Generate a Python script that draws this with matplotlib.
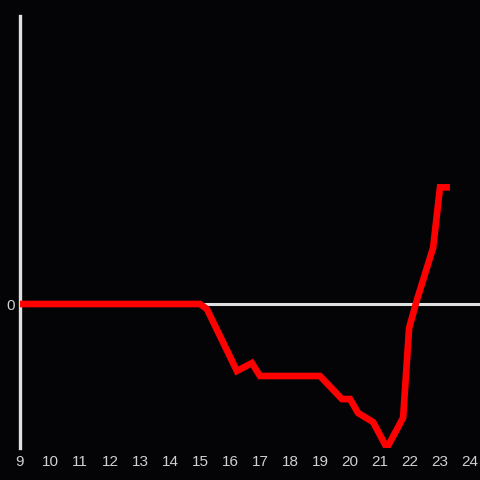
import numpy as np
import matplotlib
matplotlib.use('Agg')
import matplotlib.pyplot as plt

plt.rcParams['font.family'] = ['Liberation Sans', 'DejaVu Sans']

# series
x_vals = [9, 10, 11, 12, 13, 14, 15, 15.23, 16.23, 16.73, 17.0, 18, 19.0,
          19.73, 20.0, 20.27, 20.77, 21.23, 21.77, 21.97, 22.23, 22.77,
          23.0, 23.33]
y_vals = [0, 0, 0, 0, 0, 0, 0, -0.035, -0.465, -0.41, -0.5, -0.5, -0.5,
          -0.66, -0.66, -0.757, -0.82, -1.0, -0.79, -0.167, 0.028, 0.39,
          0.81, 0.81]
x_ticks = list(range(9, 25))

bg = '#040306'
fig = plt.figure(figsize=(4.8, 4.8), dpi=100, facecolor=bg)
ax = fig.add_axes([20 / 480, 32 / 480, 460 / 480, 432 / 480], facecolor=bg)

ax.axhline(0, color='#e0e0e0', linewidth=2.2, zorder=1)
ax.plot(x_vals, y_vals, color='#ff0000', linewidth=4.8,
        solid_joinstyle='miter', solid_capstyle='butt', zorder=3)

ax.set_xlim(9, 24.333)
ax.set_ylim(-1.0, 2.0)
ax.set_xticks(x_ticks)
ax.set_xticklabels([str(t) for t in x_ticks])
ax.set_yticks([0])
ax.set_yticklabels(['0'])
ax.tick_params(axis='both', length=0, colors='#d0d0d0', labelsize=11)
ax.tick_params(axis='x', pad=5)
ax.tick_params(axis='y', pad=4)

for name in ['top', 'right', 'bottom']:
    ax.spines[name].set_visible(False)
ax.spines['left'].set_color('#e0e0e0')
ax.spines['left'].set_linewidth(2.4)

fig.savefig('out.png', dpi=100, facecolor=bg)
